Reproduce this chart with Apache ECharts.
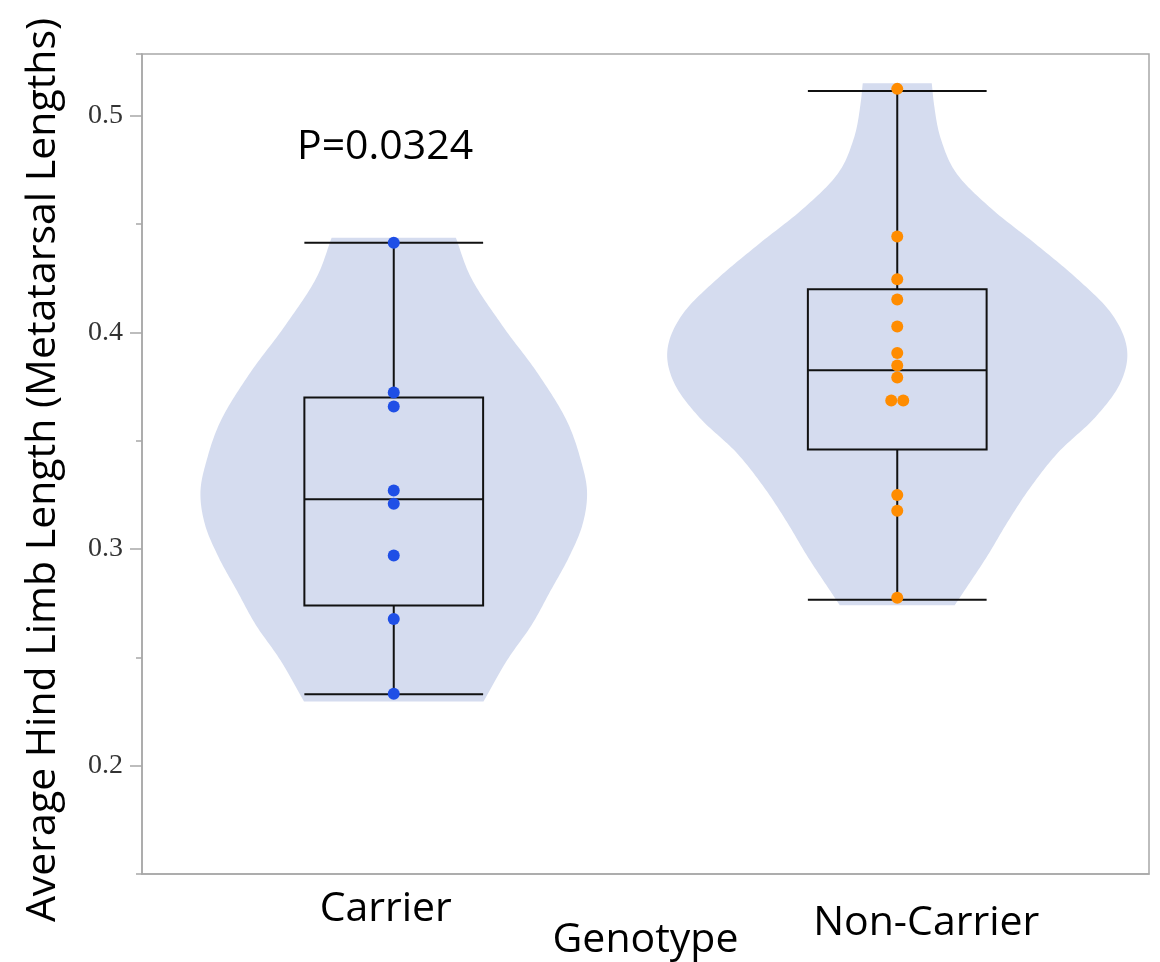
<!DOCTYPE html>
<html><head><meta charset="utf-8">
<script src="https://cdn.jsdelivr.net/npm/echarts@6/dist/echarts.min.js"></script>
<style>html,body{margin:0;padding:0;background:#fff}#chart{width:1160px;height:962px}</style>
</head><body><div id="chart"></div>
<script>
const categories = ['Carrier', 'Non-Carrier'];
const carrierValues = [0.4415, 0.3723, 0.3658, 0.3271, 0.3209, 0.2971, 0.2677, 0.2332];
const nonCarrierValues = [0.5125, 0.4443, 0.4246, 0.4153, 0.4028, 0.3905, 0.3848, 0.3792, 0.3686, 0.3686, 0.3250, 0.3177, 0.2776];
// [min, Q1, median, Q3, max]
const carrierBox = [0.2330, 0.2740, 0.3230, 0.3700, 0.4415];
const nonCarrierBox = [0.2766, 0.3460, 0.3826, 0.4200, 0.5115];
// violin outline: y values (top to bottom) and relative density (half-width)
const carrierViolinY = [0.4438, 0.4266, 0.4035, 0.3805, 0.3574, 0.3422, 0.3266, 0.3112, 0.2960, 0.2805, 0.2651, 0.2499, 0.2297];
const carrierViolinDensity = [0.27, 0.33, 0.47, 0.63, 0.76, 0.81, 0.84, 0.82, 0.76, 0.68, 0.60, 0.50, 0.39];
const nonCarrierViolinY = [0.5151, 0.5052, 0.4892, 0.4731, 0.4571, 0.4410, 0.4250, 0.4089, 0.3900, 0.3768, 0.3608, 0.3447, 0.3287, 0.3126, 0.2966, 0.2805, 0.2741];
const nonCarrierViolinDensity = [0.15, 0.16, 0.19, 0.26, 0.41, 0.60, 0.78, 0.93, 1.00, 0.97, 0.86, 0.70, 0.58, 0.48, 0.39, 0.29, 0.25];
const yTickLabels = [0.2, 0.3, 0.4, 0.5];
const pValueText = 'P=0.0324';
const yTitle = 'Average Hind Limb Length (Metatarsal Lengths)';
const xTitle = 'Genotype';

const violinY = [carrierViolinY, nonCarrierViolinY];
const violinD = [carrierViolinDensity, nonCarrierViolinDensity];
const SANS = '"Open Sans", "Noto Sans", sans-serif';
const AXIS_COLOR = '#a8a8a8';

// smooth cubic Hermite through (y, d) knots with non-uniform spacing
function smoothProfile(ys, ds, steps) {
  const n = ys.length;
  const m = new Array(n);
  for (let k = 0; k < n; k++) {
    if (k === 0) m[k] = (ds[1] - ds[0]) / (ys[1] - ys[0]);
    else if (k === n - 1) m[k] = (ds[n - 1] - ds[n - 2]) / (ys[n - 1] - ys[n - 2]);
    else {
      const h0 = ys[k] - ys[k - 1], h1 = ys[k + 1] - ys[k];
      const s0 = (ds[k] - ds[k - 1]) / h0, s1 = (ds[k + 1] - ds[k]) / h1;
      m[k] = (s0 * h1 + s1 * h0) / (h0 + h1);
    }
  }
  const out = [];
  for (let k = 0; k < n - 1; k++) {
    const h = ys[k + 1] - ys[k];
    for (let s = 0; s < steps; s++) {
      const t = s / steps, t2 = t * t, t3 = t2 * t;
      const d = (2 * t3 - 3 * t2 + 1) * ds[k] + (t3 - 2 * t2 + t) * h * m[k] + (-2 * t3 + 3 * t2) * ds[k + 1] + (t3 - t2) * h * m[k + 1];
      out.push([ys[k] + t * h, d]);
    }
  }
  out.push([ys[n - 1], ds[n - 1]]);
  return out;
}

function violinRender(params, api) {
  const i = params.dataIndex;
  const band = api.size([1, 0])[0];
  const scale = band * 0.457;
  const prof = smoothProfile(violinY[i], violinD[i], 16);
  const cx = api.coord([i, violinY[i][0]])[0];
  const poly = [];
  prof.forEach(p => poly.push([cx - p[1] * scale, api.coord([i, p[0]])[1]]));
  for (let k = prof.length - 1; k >= 0; k--) poly.push([cx + prof[k][1] * scale, api.coord([i, prof[k][0]])[1]]);
  return { type: 'polygon', shape: { points: poly }, style: { fill: '#d5dcef' }, silent: true };
}

function swarm(vals, idx) {
  const counts = {}, seen = {};
  vals.forEach(v => counts[v] = (counts[v] || 0) + 1);
  return vals.map(v => {
    const n = counts[v];
    const k = (seen[v] = (seen[v] || 0) + 1) - 1;
    const off = n > 1 ? (k - (n - 1) / 2) * 12 : 0;
    return { value: [idx, v], symbolOffset: [off, 0] };
  });
}

const chart = echarts.init(document.getElementById('chart'), null, { renderer: 'canvas' });
chart.setOption({
  animation: false,
  backgroundColor: '#fff',
  grid: { left: 142, right: 11, top: 54, bottom: 88, show: true, borderColor: AXIS_COLOR, borderWidth: 1.5, backgroundColor: 'transparent', containLabel: false, outerBoundsMode: 'none' },
  xAxis: {
    type: 'category', data: categories, boundaryGap: true,
    axisLine: { show: true, lineStyle: { color: AXIS_COLOR, width: 1.5 } },
    axisTick: { show: false },
    axisLabel: {
      interval: 0, margin: 15,
      formatter: (v, i) => '{c' + i + '|' + v + '}',
      rich: {
        c0: { fontFamily: SANS, fontSize: 41, color: '#000', padding: [0, 16, 0, 0] },
        c1: { fontFamily: SANS, fontSize: 41, color: '#000', padding: [14, 0, 0, 58] }
      }
    },
    name: xTitle, nameLocation: 'middle', nameGap: 46, nameMoveOverlap: false,
    nameTextStyle: { fontFamily: SANS, fontSize: 41, color: '#000' },
    splitLine: { show: false }
  },
  yAxis: [{
    type: 'value', min: 0.15, max: 0.5286, interval: 0.05,
    axisLine: { show: true, lineStyle: { color: AXIS_COLOR, width: 1.5 } },
    axisTick: { show: true, length: 6, lineStyle: { color: AXIS_COLOR, width: 1.5 } },
    axisLabel: { customValues: yTickLabels, margin: 19, fontFamily: '"Liberation Serif", "DejaVu Serif", serif', fontSize: 28, color: '#333' },
    splitLine: { show: false },
    name: yTitle, nameLocation: 'middle', nameGap: 78, nameRotate: 90, nameMoveOverlap: false,
    nameTextStyle: { fontFamily: SANS, fontSize: 41, color: '#000', padding: [0, 12, 0, 0] }
  }, {
    type: 'value', min: 0.15, max: 0.5286, interval: 0.05, position: 'left',
    axisLine: { show: false },
    axisTick: { show: true, customValues: yTickLabels, length: 12, lineStyle: { color: AXIS_COLOR, width: 1.5 } },
    axisLabel: { show: false },
    splitLine: { show: false }
  }],
  graphic: [{
    type: 'text', x: 297, y: 147, silent: true,
    style: { text: pValueText, font: '41px "Open Sans"', fill: '#000', align: 'left', verticalAlign: 'middle', textAlign: 'left', textVerticalAlign: 'middle' }
  }],
  series: [
    {
      type: 'custom', name: 'violin', z: 1, renderItem: violinRender, silent: true,
      encode: { x: 0, y: 1 },
      data: [[0, carrierBox[2]], [1, nonCarrierBox[2]]]
    },
    {
      type: 'boxplot', name: 'box', z: 2, silent: true,
      boxWidth: ['35.5%', '35.5%'],
      itemStyle: { color: 'rgba(0,0,0,0)', borderColor: '#111', borderWidth: 2 },
      emphasis: { disabled: true },
      data: [carrierBox, nonCarrierBox]
    },
    {
      type: 'scatter', name: 'Carrier', z: 3, symbolSize: 12, silent: true,
      itemStyle: { color: '#1f4fe6', opacity: 1 },
      data: swarm(carrierValues, 0)
    },
    {
      type: 'scatter', name: 'Non-Carrier', z: 3, symbolSize: 12, silent: true,
      itemStyle: { color: '#ff8c00', opacity: 1 },
      data: swarm(nonCarrierValues, 1)
    }
  ]
});
</script></body></html>
